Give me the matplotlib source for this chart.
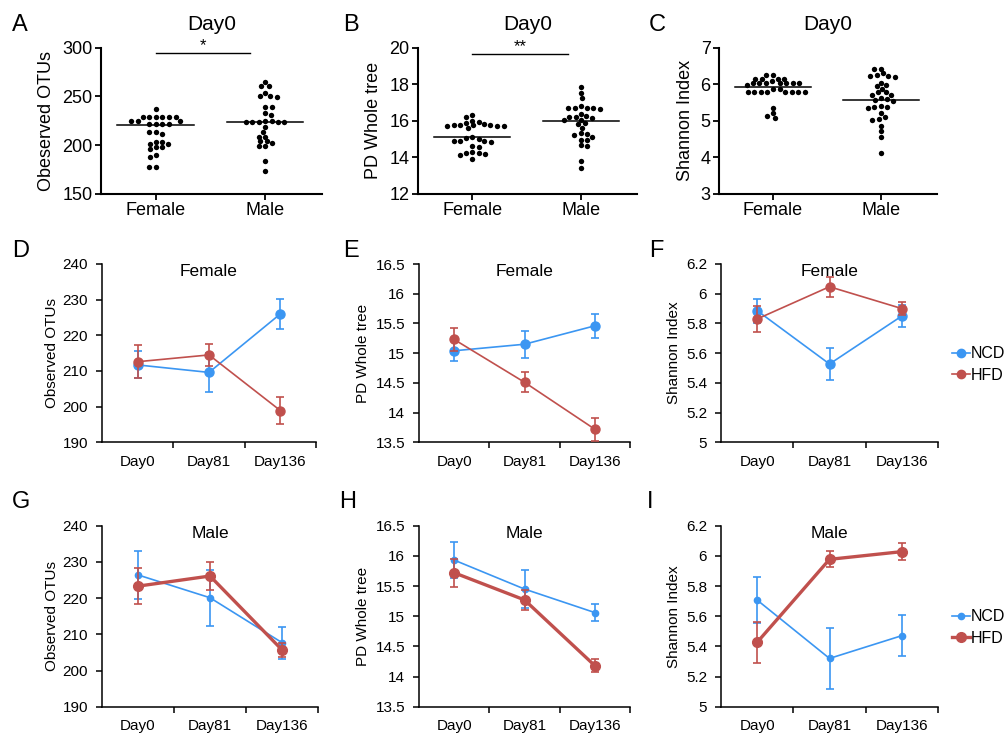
import numpy as np
import matplotlib
matplotlib.use('Agg')
import matplotlib.pyplot as plt
from matplotlib.lines import Line2D

plt.rcParams['font.family'] = ['Liberation Sans', 'DejaVu Sans']

# ---------------- data ----------------
groups = ['Female', 'Male']

otu_female = [236.9, 228.6, 228.6, 228.6, 228.6, 228.6, 228.6, 225.1, 225.1, 225.1,
              221.7, 221.7, 221.7, 221.7, 213.1, 213.1, 211.0, 203.4, 203.4, 201.0,
              201.0, 197.6, 197.6, 195.5, 189.6, 187.2, 177.5, 177.5]
otu_male = [264.8, 261.0, 261.0, 253.4, 250.6, 250.6, 249.3, 239.6, 239.6, 233.4,
            231.0, 225.1, 225.1, 223.4, 223.4, 223.4, 223.4, 223.4, 218.3, 213.8,
            208.6, 208.6, 204.0, 204.0, 201.7, 198.9, 198.9, 183.7, 173.0]
otu_lines = [220.5, 223.3]

pd_female = [16.3, 16.2, 16.0, 15.95, 15.9, 15.8, 15.78, 15.75, 15.75, 15.75, 15.72,
             15.72, 15.7, 15.6, 15.08, 15.05, 15.02, 14.9, 14.9, 14.88, 14.85, 14.6,
             14.55, 14.3, 14.25, 14.2, 14.15, 14.1, 13.9]
pd_male = [17.85, 17.5, 17.25, 16.8, 16.7, 16.7, 16.7, 16.68, 16.65, 16.38, 16.25,
           16.22, 16.2, 16.15, 16.05, 16.02, 15.85, 15.8, 15.6, 15.3, 15.28, 15.22,
           15.1, 14.95, 14.92, 14.65, 14.62, 13.8, 13.4]
pd_lines = [15.08, 16.0]

sh_female = [6.25, 6.25, 6.16, 6.16, 6.16, 6.16, 6.09, 6.04, 6.04, 6.04, 6.04, 6.04,
             6.04, 6.04, 5.98, 5.86, 5.86, 5.79, 5.79, 5.79, 5.79, 5.79, 5.79, 5.79,
             5.79, 5.35, 5.2, 5.13, 5.08]
sh_male = [6.42, 6.41, 6.3, 6.25, 6.23, 6.22, 6.21, 6.05, 5.98, 5.95, 5.88, 5.79,
           5.78, 5.72, 5.7, 5.62, 5.6, 5.58, 5.55, 5.4, 5.38, 5.37, 5.36, 5.2, 5.1,
           5.05, 5.02, 4.85, 4.72, 4.55, 4.1]
sh_lines = [5.92, 5.58]

days = ['Day0', 'Day81', 'Day136']

ncd_f_otu, ncd_f_otu_err = [211.7, 209.6, 226.0], [3.8, 5.4, 4.3]
hfd_f_otu, hfd_f_otu_err = [212.6, 214.5, 198.9], [4.7, 3.0, 3.8]
ncd_f_pd, ncd_f_pd_err = [15.04, 15.15, 15.46], [0.17, 0.23, 0.20]
hfd_f_pd, hfd_f_pd_err = [15.23, 14.51, 13.72], [0.19, 0.17, 0.19]
ncd_f_sh, ncd_f_sh_err = [5.886, 5.527, 5.85], [0.08, 0.11, 0.075]
hfd_f_sh, hfd_f_sh_err = [5.83, 6.047, 5.90], [0.09, 0.067, 0.045]

ncd_m_otu, ncd_m_otu_err = [226.4, 220.1, 207.7], [6.6, 7.8, 4.4]
hfd_m_otu, hfd_m_otu_err = [223.3, 226.1, 205.7], [5.0, 3.8, 2.0]
ncd_m_pd, ncd_m_pd_err = [15.93, 15.45, 15.06], [0.30, 0.31, 0.14]
hfd_m_pd, hfd_m_pd_err = [15.72, 15.27, 14.18], [0.23, 0.17, 0.11]
ncd_m_sh, ncd_m_sh_err = [5.707, 5.32, 5.471], [0.155, 0.20, 0.136]
hfd_m_sh, hfd_m_sh_err = [5.427, 5.977, 6.028], [0.136, 0.052, 0.055]

BLUE = '#3b96f2'
RED = '#c0504d'

# ---------------- figure ----------------
W, H = 1007, 738
fig = plt.figure(figsize=(W / 100, H / 100), dpi=100)


def ax_px(l, t, r, b):
    return fig.add_axes([l / W, 1 - b / H, (r - l) / W, (b - t) / H])


def swarm_offsets(ypix, dx, dy_lim):
    """Beeswarm layout in pixels with an elliptical collision zone."""
    ypix = np.asarray(ypix, float)
    order = np.argsort(-ypix, kind='stable')
    placed = []
    xs = np.zeros(len(ypix))
    for n, i in enumerate(order):
        y = ypix[i]
        cands = [0.0]
        forb = []
        for (px, py) in placed:
            dy = abs(py - y)
            if dy < dy_lim:
                w = dx * np.sqrt(1 - (dy / dy_lim) ** 2)
                forb.append((px - w, px + w))
                cands += [px - w, px + w]
        sgn = 1 if n % 2 == 0 else -1
        cands = sorted(set(cands), key=lambda c: (round(abs(c), 6), -sgn * c))
        for c in cands:
            if all(not (a + 1e-6 < c < b - 1e-6) for a, b in forb):
                xs[i] = c
                break
        placed.append((xs[i], y))
    return xs


def scatter_panel(box, data, lines, ylim, yticks, ylabel, ylab_x, sig=None):
    l, t, r, b = box
    ax = ax_px(l, t, r, b)
    xlim = (-0.5, 1.52)
    ax.set_xlim(*xlim)
    ax.set_ylim(*ylim)
    wpx, hpx = r - l, b - t
    px_per_x = wpx / (xlim[1] - xlim[0])
    for gi, vals in enumerate(data):
        ypix = (np.asarray(vals) - ylim[0]) / (ylim[1] - ylim[0]) * hpx
        off = swarm_offsets(ypix, 6.6, 4.6) / px_per_x
        ax.scatter(gi + off, vals, s=15, color='black', linewidths=0, zorder=3)
        ax.plot([gi - 0.35, gi + 0.35], [lines[gi], lines[gi]], color='black', lw=1.1, zorder=2)
    for s in ['top', 'right']:
        ax.spines[s].set_visible(False)
    for s in ['left', 'bottom']:
        ax.spines[s].set_linewidth(1.5)
    ax.set_xticks([0, 1])
    ax.set_xticklabels(groups, fontsize=13)
    ax.set_yticks(yticks)
    ax.set_yticklabels([f'{v:g}' for v in yticks], fontsize=13)
    ax.tick_params(axis='both', length=4, width=1.3, pad=2)
    ax.set_ylabel(ylabel, fontsize=13, va='center')
    ax.yaxis.set_label_coords((ylab_x - l) / wpx, 0.5)
    ax.text(0.5, 1 + 23 / hpx, 'Day0', transform=ax.transAxes, ha='center', va='center', fontsize=15)
    if sig is not None:
        y, x1, label = sig
        ax.plot([0, x1], [y, y], color='black', lw=1.0, clip_on=False)
        ax.text(x1 / 2, y, label, ha='center', va='bottom', fontsize=12, clip_on=False)
    return ax


scatter_panel((101, 48, 322, 193.5), [otu_female, otu_male], otu_lines, (150, 300),
              [150, 200, 250, 300], 'Obeserved OTUs', 47, sig=(294.8, 0.86, '*'))
scatter_panel((418, 48, 637, 193.5), [pd_female, pd_male], pd_lines, (12, 20),
              [12, 14, 16, 18, 20], 'PD Whole tree', 373, sig=(19.69, 0.88, '**'))
scatter_panel((719, 48, 937, 193.5), [sh_female, sh_male], sh_lines, (3, 7),
              [3, 4, 5, 6, 7], 'Shannon Index', 685)


def line_panel(box, ncd, ncd_err, hfd, hfd_err, ylim, yticks, ylabel, ylab_x, title, thick_red=False):
    l, t, r, b = box
    ax = ax_px(l, t, r, b)
    x = np.arange(len(days))
    ax.errorbar(x, ncd, yerr=ncd_err, fmt='-o', color=BLUE, lw=1.2,
                ms=4.5 if thick_red else 6.5, elinewidth=1.2, capsize=3, capthick=1.2, zorder=3)
    ax.errorbar(x, hfd, yerr=hfd_err, fmt='-o', color=RED, lw=2.4 if thick_red else 1.2,
                ms=7.0 if thick_red else 6.5, elinewidth=1.2, capsize=3, capthick=1.2, zorder=4)
    ax.set_xlim(-0.5, 2.5)
    ax.set_ylim(*ylim)
    for s in ['top', 'right']:
        ax.spines[s].set_visible(False)
    for s in ['left', 'bottom']:
        ax.spines[s].set_linewidth(1.1)
    ax.set_xticks(x)
    ax.set_xticklabels(days, fontsize=11)
    ax.set_xticks([0.5, 1.5, 2.5], minor=True)
    ax.tick_params(axis='x', which='major', length=0, pad=9)
    ax.tick_params(axis='x', which='minor', length=4, width=1.1)
    ax.set_yticks(yticks)
    ax.set_yticklabels([f'{v:g}' for v in yticks], fontsize=11)
    ax.tick_params(axis='y', length=4, width=1.1, pad=6)
    ax.set_ylabel(ylabel, fontsize=11, va='center')
    ax.yaxis.set_label_coords((ylab_x - l) / (r - l), 0.5)
    ax.text(0.5, 1 - 8 / (b - t), title, transform=ax.transAxes, ha='center', va='center', fontsize=12.5)
    return ax


line_panel((102, 264, 316, 442.3), ncd_f_otu, ncd_f_otu_err, hfd_f_otu, hfd_f_otu_err,
           (190, 240), [190, 200, 210, 220, 230, 240], 'Observed OTUs', 52, 'Female')
line_panel((419, 264, 630, 442.3), ncd_f_pd, ncd_f_pd_err, hfd_f_pd, hfd_f_pd_err,
           (13.5, 16.5), [13.5, 14, 14.5, 15, 15.5, 16, 16.5], 'PD Whole tree', 363, 'Female')
line_panel((721, 264, 938, 442.3), ncd_f_sh, ncd_f_sh_err, hfd_f_sh, hfd_f_sh_err,
           (5, 6.2), [5, 5.2, 5.4, 5.6, 5.8, 6, 6.2], 'Shannon Index', 674, 'Female')

line_panel((102, 525.7, 318, 706.7), ncd_m_otu, ncd_m_otu_err, hfd_m_otu, hfd_m_otu_err,
           (190, 240), [190, 200, 210, 220, 230, 240], 'Observed OTUs', 52, 'Male', thick_red=True)
line_panel((419, 525.7, 630, 706.7), ncd_m_pd, ncd_m_pd_err, hfd_m_pd, hfd_m_pd_err,
           (13.5, 16.5), [13.5, 14, 14.5, 15, 15.5, 16, 16.5], 'PD Whole tree', 363, 'Male', thick_red=True)
line_panel((721, 525.7, 938, 706.7), ncd_m_sh, ncd_m_sh_err, hfd_m_sh, hfd_m_sh_err,
           (5, 6.2), [5, 5.2, 5.4, 5.6, 5.8, 6, 6.2], 'Shannon Index', 674, 'Male', thick_red=True)


def add_legend(yc, thick):
    handles = [Line2D([], [], color=BLUE, lw=1.2, marker='o', ms=4.5 if thick else 6),
               Line2D([], [], color=RED, lw=2.4 if thick else 1.2, marker='o', ms=7 if thick else 6)]
    fig.legend(handles, ['NCD', 'HFD'], loc='center left', bbox_to_anchor=(952 / W, 1 - yc / H),
               frameon=False, fontsize=11.5, handlelength=1.1, handletextpad=0.1,
               labelspacing=0.4, borderpad=0, borderaxespad=0)


add_legend(364.5, False)
add_legend(627.5, True)

letters = [('A', 12, 31), ('B', 343, 31), ('C', 649, 31),
           ('D', 12, 257), ('E', 343, 257), ('F', 649, 257),
           ('G', 12, 508), ('H', 339, 508), ('I', 647, 508)]
for lab, x, y in letters:
    fig.text(x / W, 1 - y / H, lab, fontsize=17, ha='left', va='baseline')

fig.savefig('out.png', dpi=100)
